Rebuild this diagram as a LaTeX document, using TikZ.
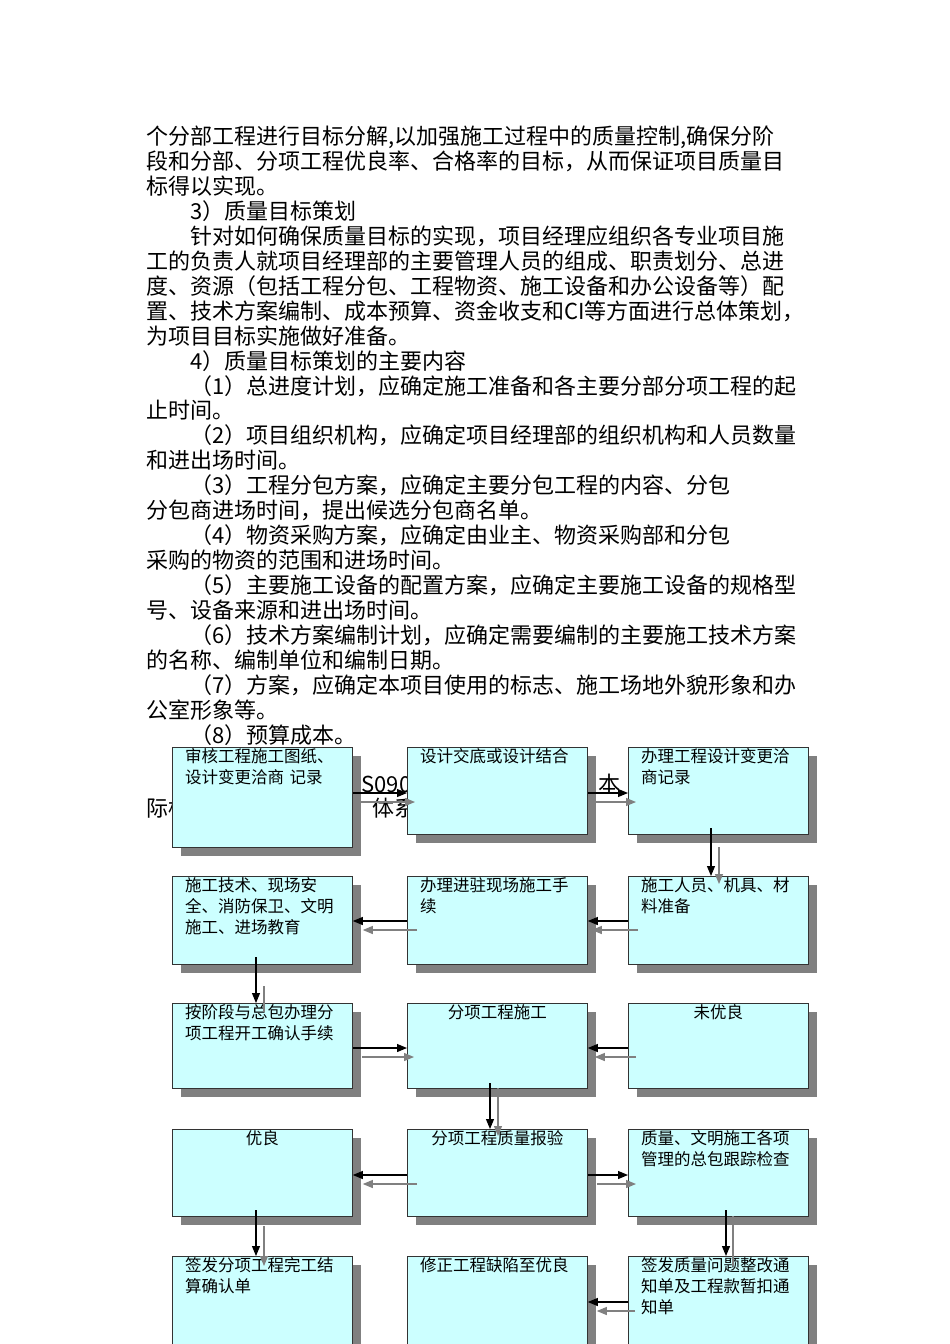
\documentclass[tikz,border=0pt]{standalone}
\usepackage{fontspec}
\setmainfont{Noto Sans CJK SC}
\usetikzlibrary{arrows.meta,calc}
\definecolor{boxfill}{HTML}{CCFFFF}
\definecolor{shadowgray}{HTML}{808080}
\begin{document}
\begin{tikzpicture}[x=1pt,y=-1pt,
  bodyline/.style={anchor=west,inner sep=0pt,font=\fontsize{22}{24}\selectfont},
  bx/.style={draw=black!80,line width=0.8pt,fill=boxfill,minimum width=180pt,anchor=north west,inner sep=0pt},
  sh/.style={fill=shadowgray,draw=none,minimum width=180pt,anchor=north west,inner sep=0pt},
  btxt/.style={anchor=north west,text width=170pt,align=left,inner sep=0pt,font=\fontsize{16.5}{21}\selectfont},
  ctxt/.style={anchor=north,inner sep=0pt,font=\fontsize{16.5}{21}\selectfont},
  arr/.style={-{Triangle[length=10pt,width=8pt]},line width=1.1pt,black},
  garr/.style={-{Triangle[length=10pt,width=8pt]},line width=1.1pt,shadowgray},
  gln/.style={line width=1.1pt,shadowgray}]
\useasboundingbox (0,0) rectangle (950,1344);
\fill[white] (0,0) rectangle (950,1344);
% body text
\node[bodyline] (t1) at (146,137) {个分部工程进行目标分解,以加强施工过程中的质量控制,确保分阶};
\node[bodyline] (t2) at (146,161) {段和分部、分项工程优良率、合格率的目标，从而保证项目质量目};
\node[bodyline] (t3) at (146,186) {标得以实现。};
\node[bodyline] (t4) at (190,211) {3）质量目标策划};
\node[bodyline] (t5) at (190,236) {针对如何确保质量目标的实现，项目经理应组织各专业项目施};
\node[bodyline] (t6) at (146,261) {工的负责人就项目经理部的主要管理人员的组成、职责划分、总进};
\node[bodyline] (t7) at (146,286) {度、资源（包括工程分包、工程物资、施工设备和办公设备等）配};
\node[bodyline] (t8) at (146,311) {置、技术方案编制、成本预算、资金收支和CI等方面进行总体策划，};
\node[bodyline] (t9) at (146,336) {为项目目标实施做好准备。};
\node[bodyline] (t10) at (190,361) {4）质量目标策划的主要内容};
\node[bodyline] (t11) at (190,386) {（1）总进度计划，应确定施工准备和各主要分部分项工程的起};
\node[bodyline] (t12) at (146,410) {止时间。};
\node[bodyline] (t13) at (190,435) {（2）项目组织机构，应确定项目经理部的组织机构和人员数量};
\node[bodyline] (t14) at (146,460) {和进出场时间。};
\node[bodyline] (t15) at (190,485) {（3）工程分包方案，应确定主要分包工程的内容、分包};
\node[bodyline] (t16) at (146,510) {分包商进场时间，提出候选分包商名单。};
\node[bodyline] (t17) at (190,535) {（4）物资采购方案，应确定由业主、物资采购部和分包};
\node[bodyline] (t18) at (146,560) {采购的物资的范围和进场时间。};
\node[bodyline] (t19) at (190,585) {（5）主要施工设备的配置方案，应确定主要施工设备的规格型};
\node[bodyline] (t20) at (146,610) {号、设备来源和进出场时间。};
\node[bodyline] (t21) at (190,635) {（6）技术方案编制计划，应确定需要编制的主要施工技术方案};
\node[bodyline] (t22) at (146,660) {的名称、编制单位和编制日期。};
\node[bodyline] (t23) at (190,685) {（7）方案，应确定本项目使用的标志、施工场地外貌形象和办};
\node[bodyline] (t24) at (146,710) {公室形象等。};
\node[bodyline] (t25) at (190,735) {（8）预算成本。};
\node[bodyline] (t26) at (355,784) {IS090};
\node[bodyline] (t27) at (598,784) {本};
\node[bodyline] (t28) at (146,808) {际标};
\node[bodyline] (t29) at (372,808) {体系文};
% boxes
\foreach \n/\x/\y/\h in {a/172/747/100,b/407/747/87,c/628/747/87,
  d/172/876/88,e/407/876/88,f/628/876/88,
  g/172/1003/85,h/407/1003/85,i/628/1003/85,
  j/172/1129/87,k/407/1129/87,l/628/1129/87,
  m/172/1256/88,n/407/1256/88,o/628/1256/88}{
  \node[sh,minimum height=\h pt] (s\n) at ([shift={(9,9)}]\x,\y) {};
  \node[bx,minimum height=\h pt] (\n) at (\x,\y) {};
}
\node[btxt] (ta) at ([xshift=13pt,yshift=-1pt]a.north west) {审核工程施工图纸、\\设计变更洽商\ 记录};
\node[btxt] (tb) at ([xshift=13pt,yshift=-1pt]b.north west) {设计交底或设计结合};
\node[btxt] (tc) at ([xshift=13pt,yshift=-1pt]c.north west) {办理工程设计变更洽\\商记录};
\node[btxt] (td) at ([xshift=13pt,yshift=-1pt]d.north west) {施工技术、现场安\\全、消防保卫、文明\\施工、进场教育};
\node[btxt] (te) at ([xshift=13pt,yshift=-1pt]e.north west) {办理进驻现场施工手\\续};
\node[btxt] (tf) at ([xshift=13pt,yshift=-1pt]f.north west) {施工人员、机具、材\\料准备};
\node[btxt] (tg) at ([xshift=13pt,yshift=-1pt]g.north west) {按阶段与总包办理分\\项工程开工确认手续};
\node[ctxt] (th) at ([yshift=-1pt]h.north) {分项工程施工};
\node[ctxt] (ti) at ([yshift=-1pt]i.north) {未优良};
\node[ctxt] (tj) at ([yshift=-1pt]j.north) {优良};
\node[ctxt] (tk) at ([yshift=-1pt]k.north) {分项工程质量报验};
\node[btxt] (tl) at ([xshift=13pt,yshift=-1pt]l.north west) {质量、文明施工各项\\管理的总包跟踪检查};
\node[btxt] (tm) at ([xshift=13pt,yshift=-1pt]m.north west) {签发分项工程完工结\\算确认单};
\node[btxt] (tn) at ([xshift=13pt,yshift=-1pt]n.north west) {修正工程缺陷至优良};
\node[btxt] (to) at ([xshift=13pt,yshift=-1pt]o.north west) {签发质量问题整改通\\知单及工程款暂扣通\\知单};
% connectors
\draw[garr] (a.east |- 0,802) -- ([xshift=8pt]b.west |- 0,802);
\draw[arr] (a.east |- 0,793) -- (b.west |- 0,793);
\draw[garr] ([xshift=3pt]b.east |- 0,802) -- ([xshift=8pt]c.west |- 0,802);
\draw[arr] (b.east |- 0,793) -- (c.west |- 0,793);
\draw[garr] ([xshift=10pt]f.west |- 0,930) -- ([xshift=4pt]e.east |- 0,930);
\draw[arr] (f.west |- 0,921) -- (e.east |- 0,921);
\draw[garr] ([xshift=10pt]e.west |- 0,930) -- ([xshift=10pt]d.east |- 0,930);
\draw[arr] (e.west |- 0,921) -- (d.east |- 0,921);
\draw[garr] ([xshift=9pt]g.east |- 0,1057) -- ([xshift=7pt]h.west |- 0,1057);
\draw[arr] (g.east |- 0,1048) -- (h.west |- 0,1048);
\draw[garr] ([xshift=8pt]i.west |- 0,1057) -- ([xshift=7pt]h.east |- 0,1057);
\draw[arr] (i.west |- 0,1048) -- (h.east |- 0,1048);
\draw[garr] ([xshift=10pt]k.west |- 0,1184) -- ([xshift=10pt]j.east |- 0,1184);
\draw[arr] (k.west |- 0,1175) -- (j.east |- 0,1175);
\draw[garr] ([xshift=9pt]k.east |- 0,1184) -- ([xshift=8pt]l.west |- 0,1184);
\draw[arr] (k.east |- 0,1175) -- (l.west |- 0,1175);
\draw[garr] ([xshift=7pt]o.west |- 0,1311) -- ([xshift=9pt]n.east |- 0,1311);
\draw[arr] (o.west |- 0,1302) -- (n.east |- 0,1302);
\draw[garr] (719,847) -- (719,884);
\draw[arr] (711,828) -- (f.north -| 711,0);
\draw[gln] (264,986) -- (264,1012);
\draw[arr] (256,957) -- (g.north -| 256,0);
\draw[garr] (498,1088) -- (498,1136);
\draw[arr] (490,1083) -- (k.north -| 490,0);
\draw[garr] (264,1226) -- (264,1266);
\draw[arr] (256,1210) -- (m.north -| 256,0);
\draw[gln] (733,1216) -- (733,1266);
\draw[arr] (726,1210) -- (o.north -| 726,0);
\end{tikzpicture}
\end{document}
